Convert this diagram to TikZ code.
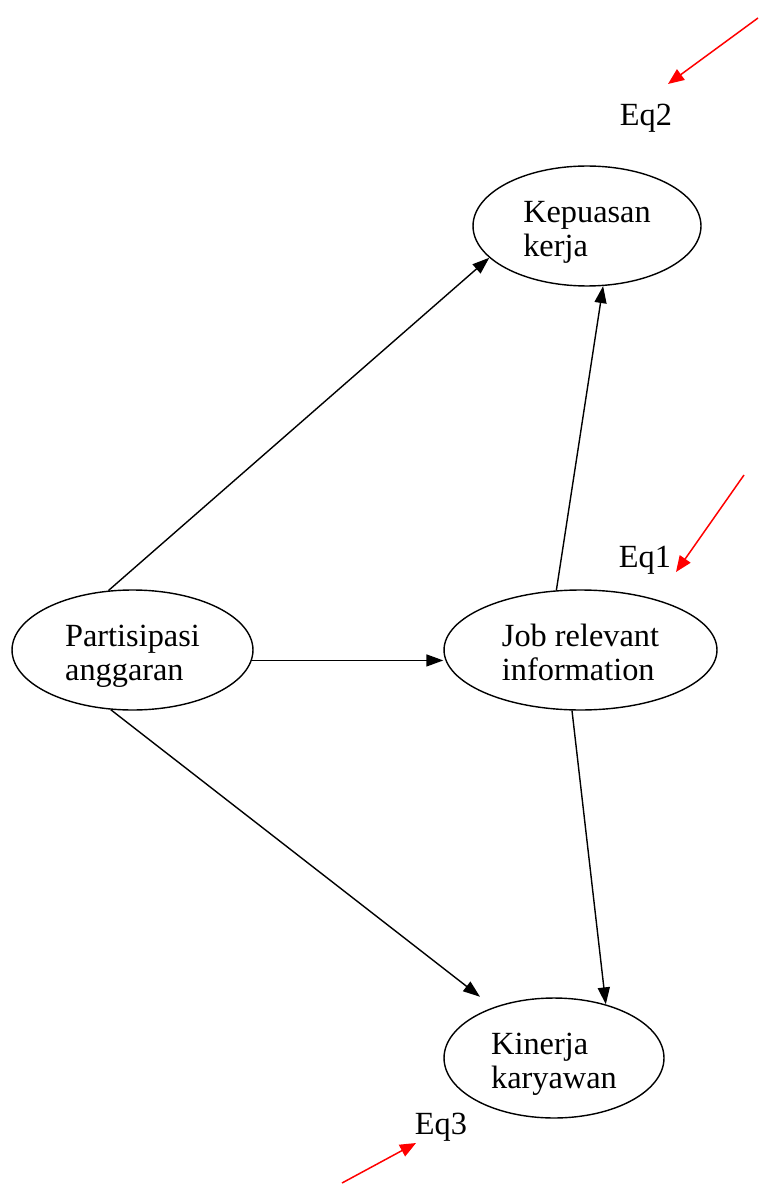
\documentclass[tikz,border=0pt]{standalone}
\usepackage{fontspec}
\setmainfont{Liberation Serif}
\usetikzlibrary{shapes,arrows.meta}

% 两行文字，稍微下移
\newcommand{\isi}[1]{\raisebox{-0.13cm}[\height][\depth]{\begin{tabular}{@{}l@{}}#1\end{tabular}}}

\begin{document}
\begin{tikzpicture}[x=0.02cm,y=-0.02cm,
  konstruk/.style={ellipse,draw,line width=0.8pt,minimum height=2.4cm,
    font=\fontsize{18.4}{19.6}\selectfont},
  jalur/.style={-{Triangle[length=0.34cm,width=0.24cm]},line width=0.8pt},
  galat/.style={red,-{Triangle[length=0.32cm,width=0.26cm]},line width=0.85pt},
  teks/.style={font=\fontsize{18.4}{19.6}\selectfont,inner sep=0pt}]

\useasboundingbox (0,0) rectangle (758,1185);

% 画椭圆
\node[konstruk,minimum width=4.56cm] (kk) at (587,226) {\isi{Kepuasan\\kerja}};
\node[konstruk,minimum width=4.82cm] (pa) at (132.5,650) {\isi{Partisipasi\\anggaran}};
\node[konstruk,minimum width=5.46cm] (jr) at (580.5,650) {\isi{Job relevant\\information}};
\node[konstruk,minimum width=4.4cm] (kn) at (554,1058) {\isi{Kinerja\\karyawan}};

% 画箭头
\draw[jalur] (pa.112) -- (kk.198);
\draw[jalur] (pa.-5) -- (pa.-5 -| jr.west);
\draw[jalur,shorten >=0.34cm] (pa.-110) -- (kn.140);
\draw[jalur] (jr.112) -- (kk.-75);
\draw[jalur] (jr.-98) -- (kn.46);

% 误差项
\node[teks] (eq2) at (646,118) {Eq2};
\node[teks] (eq1) at (645,560) {Eq1};
\node[teks] (eq3) at (441,1127) {Eq3};

\coordinate (g2a) at (758,18);
\coordinate (g2b) at (668,84);
\coordinate (g1a) at (744,475);
\coordinate (g1b) at (676,572);
\coordinate (g3a) at (342,1183);
\coordinate (g3b) at (416,1143);

\draw[galat] (g2a) -- (g2b);
\draw[galat] (g1a) -- (g1b);
\draw[galat] (g3a) -- (g3b);

\end{tikzpicture}
\end{document}
